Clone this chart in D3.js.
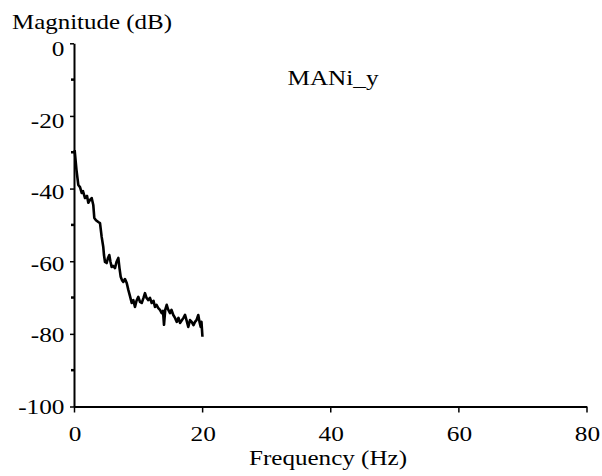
<!DOCTYPE html>
<html>
<head>
<meta charset="utf-8">
<script src="https://cdn.jsdelivr.net/npm/d3@7"></script>
<style>
  html, body { margin: 0; padding: 0; background: #fff; }
</style>
</head>
<body>
<div id="chart"></div>
<script>
// ---- data ----
const freqHz = [0.1, 0.39, 0.67, 0.94, 1.2, 1.4, 1.72, 2.03, 2.23, 2.5, 2.76, 3.01, 3.17, 3.43, 3.79, 4.06,
  4.32, 4.57, 4.68, 4.84, 5.1, 5.31, 5.51, 5.7, 5.88, 6.09, 6.4, 6.63, 6.92, 7.1, 7.29, 7.49, 7.7, 7.96,
  8.23, 8.48, 8.74, 9.01, 9.26, 9.52, 9.76, 10.04, 10.3, 10.57, 10.85, 11.08, 11.32, 11.6, 11.86, 12.13,
  12.41, 12.64, 12.88, 13.16, 13.42, 13.69, 13.89, 14.05, 14.24, 14.47, 14.67, 14.99, 15.22, 15.5, 15.77,
  16.03, 16.31, 16.55, 16.86, 17.09, 17.33, 17.56, 17.84, 18.11, 18.37, 18.65, 18.89, 19.12, 19.4, 19.59,
  19.78, 19.9, 20.05];
const magDb = [-29.4, -34.9, -39.0, -39.6, -41.2, -40.7, -42.6, -42.0, -43.9, -43.1, -42.6, -44.5, -48.1,
  -48.7, -49.2, -49.5, -53.3, -56.1, -58.3, -60.2, -60.5, -59.1, -58.3, -60.2, -61.6, -61.3, -61.9, -60.2,
  -59.1, -61.9, -64.3, -65.2, -65.7, -64.9, -66.0, -67.9, -69.6, -71.5, -70.7, -72.6, -70.9, -69.8, -71.2,
  -71.5, -70.1, -68.8, -70.1, -70.7, -70.1, -71.5, -70.9, -72.6, -72.0, -72.9, -73.4, -74.3, -73.7, -77.5,
  -73.4, -72.0, -73.2, -74.3, -73.4, -74.8, -75.6, -76.7, -75.6, -77.0, -76.2, -75.6, -74.8, -76.2, -78.1,
  -76.2, -76.7, -77.6, -76.7, -76.2, -74.8, -76.7, -78.1, -76.7, -80.8];
const xTicks = [0, 20, 40, 60, 80];
const yTicks = [0, -20, -40, -60, -80, -100];
const yMinorTicks = [-10, -30, -50, -70, -90];
const titleY = "Magnitude (dB)";
const titleX = "Frequency (Hz)";
const seriesLabel = "MANi_y";

// ---- layout ----
const FONT = "'Liberation Serif', 'Times New Roman', Times, serif";
const W = 602, H = 476;
const svg = d3.select("#chart").append("svg").attr("width", W).attr("height", H)
  .style("font-family", FONT);
svg.append("rect").attr("width", W).attr("height", H).attr("fill", "#fff");

const x = d3.scaleLinear().domain([0, 80]).range([74, 586.5]);
const y = d3.scaleLinear().domain([0, -100]).range([43.3, 406.5]);
const yLab = d3.scaleLinear().domain([0, -100]).range([48, 405.5]);
const SX = 1.15;

// x axis
const gx = svg.append("g").attr("transform", `translate(0,${y(-100)})`)
  .call(d3.axisBottom(x).tickValues(xTicks).tickSizeInner(6).tickSizeOuter(0).tickFormat(d => String(d)));
gx.attr("font-family", null);
gx.select(".domain").attr("stroke", "#000").attr("stroke-width", 2);
gx.selectAll(".tick line").attr("stroke", "#000").attr("stroke-width", 1.5);
gx.selectAll(".tick text")
  .attr("x", null).attr("y", null).attr("dy", null)
  .attr("text-anchor", "middle")
  .style("font-family", FONT)
  .style("font-size", "22px")
  .attr("fill", "#000")
  .attr("transform", `translate(0.5,${441 - y(-100)}) scale(${SX},1)`);

// y axis
const gy = svg.append("g").attr("transform", `translate(${x(0)},0)`)
  .call(d3.axisLeft(y).tickValues(yTicks).tickSizeInner(4).tickSizeOuter(0).tickFormat(d => String(d)));
gy.attr("font-family", null);
gy.select(".domain").attr("stroke", "#000").attr("stroke-width", 2);
gy.selectAll(".tick line").attr("stroke", "#000").attr("stroke-width", 1.5);
gy.selectAll(".tick text")
  .attr("x", null).attr("y", null).attr("dy", null)
  .attr("text-anchor", "end")
  .style("font-family", FONT)
  .style("font-size", "22px")
  .attr("fill", "#000")
  .attr("transform", d => `translate(-9.5,${yLab(d) + 7.5 - y(d)}) scale(${SX},1)`);

// y minor ticks
svg.append("g").selectAll("line").data(yMinorTicks).join("line")
  .attr("x1", x(0) - 3).attr("x2", x(0))
  .attr("y1", d => y(d)).attr("y2", d => y(d))
  .attr("stroke", "#000").attr("stroke-width", 2.5);

// curve
const pts = freqHz.map((f, i) => [f, magDb[i]]);
svg.append("path")
  .datum(pts)
  .attr("fill", "none")
  .attr("stroke", "#000")
  .attr("stroke-width", 2.6)
  .attr("stroke-linejoin", "round")
  .attr("d", d3.line().x(d => x(d[0])).y(d => y(d[1])));

// texts
function label(xp, yp, str, len) {
  svg.append("text").attr("x", xp).attr("y", yp)
    .style("font-family", FONT).style("font-size", "22px").attr("fill", "#000")
    .attr("textLength", len).attr("lengthAdjust", "spacingAndGlyphs").text(str);
}
label(12, 28.5, titleY, 160);
label(249, 465, titleX, 158);
label(287.5, 85, seriesLabel, 91);
</script>
</body>
</html>
